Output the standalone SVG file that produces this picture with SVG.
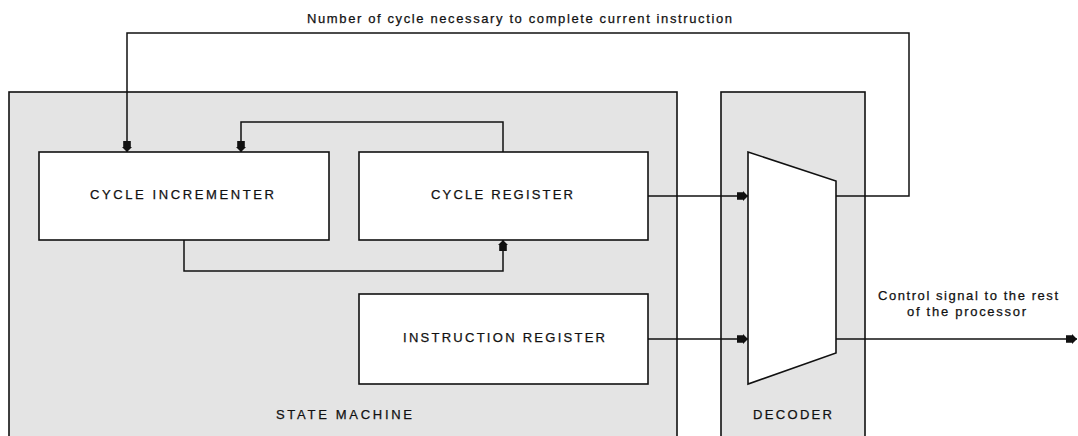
<svg xmlns="http://www.w3.org/2000/svg" width="1078" height="436" viewBox="0 0 1078 436">
<style>
.container{fill:#e4e4e4;stroke:#111;stroke-width:1.6}
.box{fill:#fff;stroke:#111;stroke-width:1.6}
.wire{fill:none;stroke:#111;stroke-width:1.5}
.lbl{font-family:"Liberation Sans",Arial,sans-serif;font-size:13px;fill:#111;stroke:#111;stroke-width:0.25;text-anchor:start}
</style>
<defs>
<marker id="ah" markerUnits="userSpaceOnUse" markerWidth="12" markerHeight="10" viewBox="0 0 12 10" refX="11" refY="5" orient="auto">
<path d="M0,1.2 L6,1.2 L6,0 L11,5 L6,10 L6,8.8 L0,8.8 z" fill="#111"/>
</marker>
</defs>
<rect width="1078" height="436" fill="#fff"/>
<g id="state-machine">
<rect class="container" x="9" y="92" width="668" height="350"/>
<text class="lbl" x="276" y="419" textLength="136" lengthAdjust="spacing">STATE MACHINE</text>
</g>
<g id="decoder">
<rect class="container" x="721" y="92" width="144" height="350"/>
<text class="lbl" x="753" y="419" textLength="79" lengthAdjust="spacing">DECODER</text>
<polygon class="box" points="748,152 836,181 836,353 748,384"/>
</g>
<g id="cycle-incrementer">
<rect class="box" x="39" y="152" width="290" height="88"/>
<text class="lbl" x="90" y="199" textLength="184" lengthAdjust="spacing">CYCLE INCREMENTER</text>
</g>
<g id="cycle-register">
<rect class="box" x="359" y="152" width="289" height="88"/>
<text class="lbl" x="431" y="199" textLength="142" lengthAdjust="spacing">CYCLE REGISTER</text>
</g>
<g id="instruction-register">
<rect class="box" x="359" y="294" width="289" height="90"/>
<text class="lbl" x="403" y="342" textLength="202" lengthAdjust="spacing">INSTRUCTION REGISTER</text>
</g>
<g id="labels">
<text class="lbl" x="307" y="23" textLength="425" lengthAdjust="spacing">Number of cycle necessary to complete current instruction</text>
<text class="lbl" x="878" y="300" textLength="180" lengthAdjust="spacing">Control signal to the rest</text>
<text class="lbl" x="907" y="316" textLength="119" lengthAdjust="spacing">of the processor</text>
</g>
<g id="connectors">
<polyline class="wire" points="836,196 909,196 909,33 127,33 127,152" marker-end="url(#ah)"/>
<polyline class="wire" points="503,152 503,122 241,122 241,152" marker-end="url(#ah)"/>
<polyline class="wire" points="184,240 184,271 503,271 503,240" marker-end="url(#ah)"/>
<line class="wire" x1="648" y1="196" x2="748" y2="196" marker-end="url(#ah)"/>
<line class="wire" x1="648" y1="339" x2="748" y2="339" marker-end="url(#ah)"/>
<line class="wire" x1="836" y1="339" x2="1077" y2="339" marker-end="url(#ah)"/>
</g>
</svg>
